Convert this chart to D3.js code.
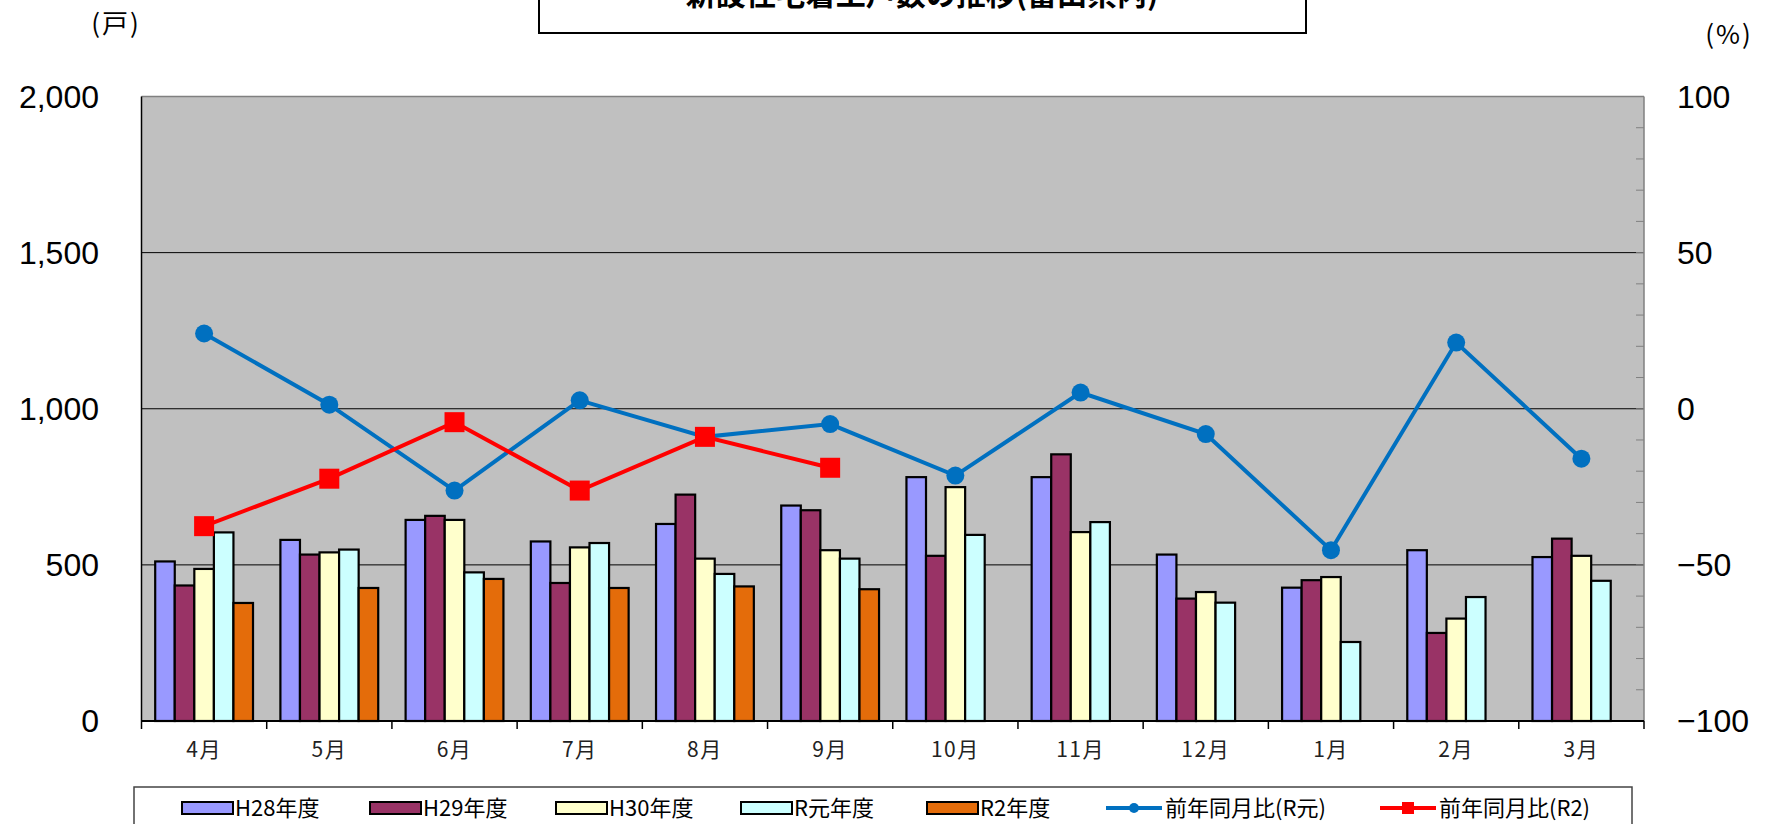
<!DOCTYPE html>
<html>
<head>
<meta charset="utf-8">
<script src="https://cdn.jsdelivr.net/npm/d3@7"></script>
<style>
  body { margin: 0; background: #fff; }
  svg { display: block; }
</style>
</head>
<body>
<svg id="chart"></svg>
<script>
// 月
const months = ["4月", "5月", "6月", "7月", "8月", "9月", "10月", "11月", "12月", "1月", "2月", "3月"];

// 戸数（棒）
const seriesNames = ["H28年度", "H29年度", "H30年度", "R元年度", "R2年度"];
const h28 = [511, 580, 644, 575, 631, 690, 781, 781, 533, 427, 547, 525];
const h29 = [434, 533, 657, 442, 725, 675, 529, 854, 392, 451, 282, 584];
const h30 = [487, 540, 644, 556, 520, 547, 749, 605, 413, 461, 328, 529];
const rGan = [604, 549, 476, 570, 471, 520, 596, 637, 379, 253, 397, 449];
const r2 = [378, 426, 455, 426, 431, 422];

// 前年同月比（折れ線, %）
const yoyRGan = [24.1, 1.3, -26.2, 2.7, -9.0, -4.9, -21.4, 5.2, -8.1, -45.3, 21.2, -16.0];
const yoyR2 = [-37.6, -22.4, -4.3, -26.2, -9.0, -18.9];

// 目盛
const leftTicks = [0, 500, 1000, 1500, 2000];
const rightTicks = [-100, -50, 0, 50, 100];

const barColors = ["#9999FF", "#993366", "#FFFFCC", "#CCFFFF", "#E46C0A"];
const blue = "#0070C0";
const red = "#FF0000";

const W = 1773, H = 824;
const plotL = 141.5, plotR = 1644, plotT = 96.5, plotB = 721;

const svg = d3.select("#chart").attr("width", W).attr("height", H);

/* ---------------------------
   Scales
--------------------------- */
const x0 = d3.scaleBand().domain(months).range([plotL, plotR]).padding(0);
const x1 = d3.scaleBand().domain(seriesNames).range([0, x0.bandwidth()])
    .paddingInner(0).paddingOuter(0.7);
const yL = d3.scaleLinear().domain([0, 2000]).range([plotB, plotT]);
const yR = d3.scaleLinear().domain([-100, 100]).range([plotB, plotT]);

/* ---------------------------
   Plot area
--------------------------- */
svg.append("rect")
    .attr("x", plotL).attr("y", plotT)
    .attr("width", plotR - plotL).attr("height", plotB - plotT)
    .attr("fill", "#C0C0C0");

svg.append("line")
    .attr("x1", plotL).attr("x2", plotR).attr("y1", plotT).attr("y2", plotT)
    .attr("stroke", "#808080").attr("stroke-width", 1.5);

// gridlines
svg.append("g")
    .selectAll("line")
    .data(leftTicks.filter(d => d > 0 && d < 2000))
    .enter()
    .append("line")
    .attr("x1", plotL).attr("x2", plotR)
    .attr("y1", d => yL(d)).attr("y2", d => yL(d))
    .attr("stroke", "#000").attr("stroke-width", 1);

// right axis minor ticks
svg.append("g")
    .selectAll("line")
    .data(d3.range(-90, 100, 10))
    .enter()
    .append("line")
    .attr("x1", plotR - 8).attr("x2", plotR)
    .attr("y1", d => yR(d)).attr("y2", d => yR(d))
    .attr("stroke", "#808080").attr("stroke-width", 1);

svg.append("line")
    .attr("x1", plotR).attr("x2", plotR).attr("y1", plotT).attr("y2", plotB)
    .attr("stroke", "#808080").attr("stroke-width", 1.5);

/* ---------------------------
   Bars
--------------------------- */
const barSeries = [h28, h29, h30, rGan, r2];
const barData = [];
barSeries.forEach((vals, si) => {
    vals.forEach((v, mi) => {
        barData.push({ month: months[mi], series: seriesNames[si], value: v, color: barColors[si] });
    });
});

svg.append("g")
    .selectAll("rect")
    .data(barData)
    .enter()
    .append("rect")
    .attr("x", d => x0(d.month) + x1(d.series))
    .attr("y", d => yL(d.value))
    .attr("width", x1.bandwidth())
    .attr("height", d => yL(0) - yL(d.value))
    .attr("fill", d => d.color)
    .attr("stroke", "#000")
    .attr("stroke-width", 2.2);

/* ---------------------------
   Axes
--------------------------- */
svg.append("line")
    .attr("x1", plotL).attr("x2", plotL).attr("y1", plotT).attr("y2", plotB)
    .attr("stroke", "#000").attr("stroke-width", 1.5);

svg.append("line")
    .attr("x1", plotL).attr("x2", plotR).attr("y1", plotB).attr("y2", plotB)
    .attr("stroke", "#000").attr("stroke-width", 2);

svg.append("g")
    .selectAll("line")
    .data(d3.range(0, months.length + 1))
    .enter()
    .append("line")
    .attr("x1", i => plotL + i * x0.step()).attr("x2", i => plotL + i * x0.step())
    .attr("y1", plotB).attr("y2", plotB + 8)
    .attr("stroke", "#000").attr("stroke-width", 1.5);

svg.append("g")
    .selectAll("text")
    .data(months)
    .enter()
    .append("text")
    .attr("x", d => x0(d) + x0.bandwidth() / 2)
    .attr("y", 757)
    .attr("text-anchor", "middle")
    .attr("font-family", "'Noto Sans CJK JP', sans-serif")
    .attr("font-size", "21px")
    .attr("letter-spacing", "1.5px")
    .attr("fill", "#222")
    .text(d => d);

svg.append("g")
    .selectAll("text")
    .data(leftTicks)
    .enter()
    .append("text")
    .attr("x", 99)
    .attr("y", d => yL(d) + 11)
    .attr("text-anchor", "end")
    .attr("font-family", "'Liberation Sans', Arial, sans-serif")
    .attr("font-size", "32px")
    .text(d => d3.format(",")(d));

svg.append("g")
    .selectAll("text")
    .data(rightTicks)
    .enter()
    .append("text")
    .attr("x", 1677)
    .attr("y", d => yR(d) + 11)
    .attr("text-anchor", "start")
    .attr("font-family", "'Liberation Sans', Arial, sans-serif")
    .attr("font-size", "32px")
    .text(d => d < 0 ? "\u2212" + Math.abs(d) : d);

svg.append("text")
    .attr("x", 116).attr("y", 33)
    .attr("text-anchor", "middle")
    .attr("font-family", "'Noto Sans CJK JP', sans-serif")
    .attr("font-size", "26px")
    .attr("letter-spacing", "2px")
    .text("(戸)");

svg.append("text")
    .attr("x", 1729).attr("y", 44)
    .attr("text-anchor", "middle")
    .attr("font-family", "'Noto Sans CJK JP', sans-serif")
    .attr("font-size", "26px")
    .attr("letter-spacing", "2px")
    .text("(%)");

/* ---------------------------
   Lines
--------------------------- */
const cx = i => x0(months[i]) + x0.bandwidth() / 2;
const line = d3.line().x((d, i) => cx(i)).y(d => yR(d));

svg.append("path")
    .attr("d", line(yoyRGan))
    .attr("fill", "none").attr("stroke", blue).attr("stroke-width", 4);

svg.append("g")
    .selectAll("circle")
    .data(yoyRGan)
    .enter()
    .append("circle")
    .attr("cx", (d, i) => cx(i)).attr("cy", d => yR(d))
    .attr("r", 9).attr("fill", blue);

svg.append("path")
    .attr("d", line(yoyR2))
    .attr("fill", "none").attr("stroke", red).attr("stroke-width", 4);

svg.append("g")
    .selectAll("rect")
    .data(yoyR2)
    .enter()
    .append("rect")
    .attr("x", (d, i) => cx(i) - 10).attr("y", d => yR(d) - 10)
    .attr("width", 20).attr("height", 20)
    .attr("fill", red);

/* ---------------------------
   Title
--------------------------- */
svg.append("rect")
    .attr("x", 539).attr("y", -10)
    .attr("width", 767).attr("height", 43)
    .attr("fill", "#fff").attr("stroke", "#000").attr("stroke-width", 2);

svg.append("text")
    .attr("x", 922).attr("y", 5)
    .attr("text-anchor", "middle")
    .attr("font-family", "'Noto Sans CJK JP', sans-serif")
    .attr("font-weight", "bold")
    .attr("font-size", "30px")
    .text("新設住宅着工戸数の推移(富山県内)");

/* ---------------------------
   Legend
--------------------------- */
svg.append("rect")
    .attr("x", 134).attr("y", 787)
    .attr("width", 1498).attr("height", 60)
    .attr("fill", "#fff").attr("stroke", "#444").attr("stroke-width", 1.5);

const legendBars = [
    { label: seriesNames[0], color: barColors[0], x: 182 },
    { label: seriesNames[1], color: barColors[1], x: 370 },
    { label: seriesNames[2], color: barColors[2], x: 556 },
    { label: seriesNames[3], color: barColors[3], x: 741 },
    { label: seriesNames[4], color: barColors[4], x: 927 }
];

const lb = svg.append("g")
    .selectAll("g")
    .data(legendBars)
    .enter()
    .append("g")
    .attr("transform", d => `translate(${d.x},808)`);

lb.append("rect")
    .attr("x", 0).attr("y", -6)
    .attr("width", 51).attr("height", 12)
    .attr("fill", d => d.color).attr("stroke", "#000").attr("stroke-width", 2);

lb.append("text")
    .attr("x", 53).attr("y", 8)
    .attr("font-family", "'Noto Sans CJK JP', sans-serif")
    .attr("font-size", "22px")
    .text(d => d.label);

const legendLines = [
    { label: "前年同月比(R元)", color: blue, x: 1106, marker: "circle" },
    { label: "前年同月比(R2)", color: red, x: 1380, marker: "square" }
];

const ll = svg.append("g")
    .selectAll("g")
    .data(legendLines)
    .enter()
    .append("g")
    .attr("transform", d => `translate(${d.x},808)`);

ll.append("line")
    .attr("x1", 0).attr("x2", 56).attr("y1", 0).attr("y2", 0)
    .attr("stroke", d => d.color).attr("stroke-width", 4);

ll.each(function (d) {
    const g = d3.select(this);
    if (d.marker === "circle") {
        g.append("circle").attr("cx", 28).attr("cy", 0).attr("r", 5).attr("fill", d.color);
    } else {
        g.append("rect").attr("x", 22).attr("y", -6).attr("width", 12).attr("height", 12).attr("fill", d.color);
    }
});

ll.append("text")
    .attr("x", 59).attr("y", 8)
    .attr("font-family", "'Noto Sans CJK JP', sans-serif")
    .attr("font-size", "22px")
    .text(d => d.label);
</script>
</body>
</html>
